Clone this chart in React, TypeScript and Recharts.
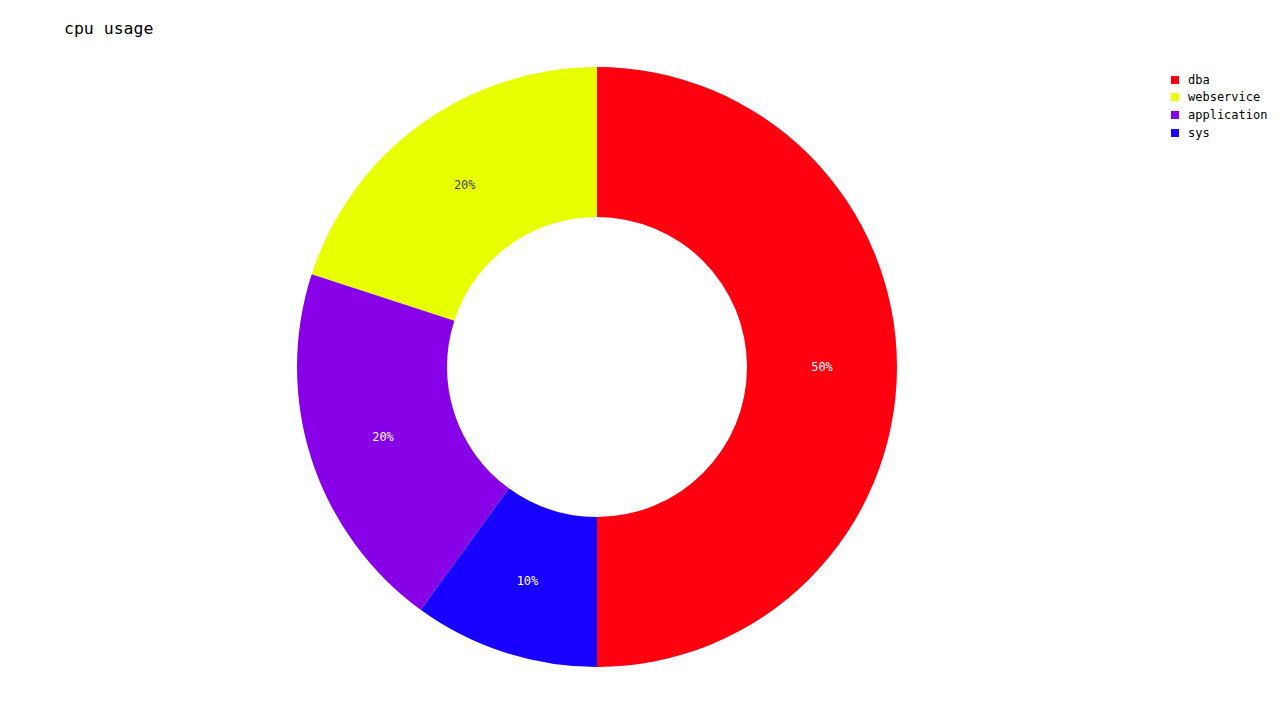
import React from "react";
import { PieChart, Pie, Cell, Legend } from "recharts";

const categories = ["dba", "webservice", "application", "sys"];
const values = [50, 20, 20, 10];
const colors = ["#ff0010", "#e8ff00", "#8800e8", "#1800ff"];
const labelColors = ["#ffffff", "#444444", "#ffffff", "#ffffff"];

const data = categories.map((name, i) => ({ name, value: values[i] }));

const FONT = "'DejaVu Sans Mono', monospace";
const RADIAN = Math.PI / 180;

const renderLabel = (props: any) => {
  const { cx, cy, midAngle, innerRadius, outerRadius, percent, index } = props;
  const r = (innerRadius + outerRadius) / 2;
  const x = cx + r * Math.cos(-midAngle * RADIAN);
  const y = cy + r * Math.sin(-midAngle * RADIAN);
  return (
    <text
      x={x}
      y={y}
      fill={labelColors[index]}
      textAnchor="middle"
      dominantBaseline="central"
      fontFamily={FONT}
      fontSize={12}
    >
      {`${Math.round(percent * 100)}%`}
    </text>
  );
};

const renderLegend = () => (
  <div style={{ fontFamily: FONT, fontSize: 12, color: "#000" }}>
    {categories.map((c, i) => (
      <div key={c} style={{ display: "flex", alignItems: "center", height: 17.6 }}>
        <span
          style={{
            display: "inline-block",
            width: 8,
            height: 8,
            background: colors[i],
            marginRight: 9,
          }}
        />
        <span>{c}</span>
      </div>
    ))}
  </div>
);

export default function App() {
  return (
    <div style={{ position: "relative", width: 1264, height: 704 }}>
      <div
        style={{
          position: "absolute",
          left: 56,
          top: 11,
          fontFamily: FONT,
          fontSize: 16.5,
          color: "#000",
          whiteSpace: "nowrap",
        }}
      >
        cpu usage
      </div>
      <PieChart width={1264} height={704}>
        <Pie
          data={data}
          dataKey="value"
          nameKey="name"
          cx={584}
          cy={354}
          innerRadius={150}
          outerRadius={300}
          startAngle={-90}
          endAngle={270}
          stroke="none"
          label={renderLabel}
          labelLine={false}
          isAnimationActive={false}
        >
          {data.map((d, i) => (
            <Cell key={d.name} fill={colors[i]} />
          ))}
        </Pie>
        <Legend
          content={renderLegend}
          wrapperStyle={{ position: "absolute", left: 1163, top: 63, width: 100 }}
        />
      </PieChart>
    </div>
  );
}
